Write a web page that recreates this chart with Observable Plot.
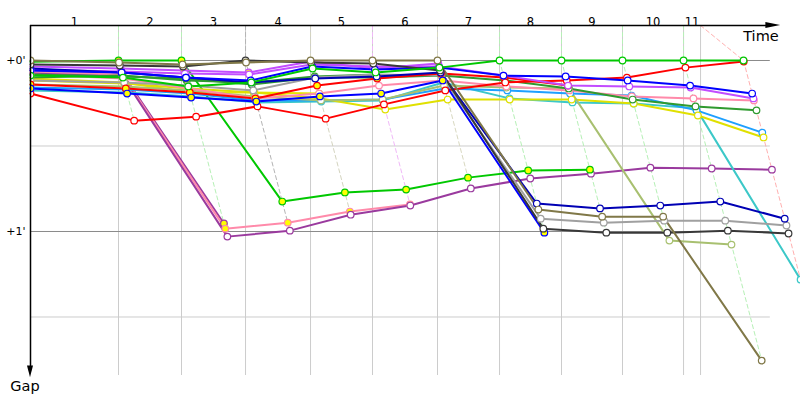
<!DOCTYPE html>
<html><head><meta charset="utf-8">
<script src="https://cdn.jsdelivr.net/npm/d3@7"></script>
<script src="https://cdn.jsdelivr.net/npm/@observablehq/plot@0.6"></script>
<style>body{margin:0;background:#fff}</style>
</head><body><div id="chart"></div>
<script>
// Lap labels and leader crossing times (seconds)
const lapLabels = ["1","2","3","4","5","6","7","8","9","10","11"];
const leaderTimes = [0,118.6,203.5,289.8,377.4,460.9,548.5,632.1,715.6,797.8,880.1,960.9];
const gridTimes = [118.6,203.5,289.8,377.4,460.9,548.5,632.1,715.6,797.8,880.1,903.0];
const gapTicks = [0, 60];
const gapMinorGrid = [30, 90];
const lapLineColors = ["#b6f0b6","#b6f0b6","#b4b4b4","#d4d4bf","#f0b8f8","#d8d8c0","#b6f0b6","#b6f0b6","#b6f0b6","#b6f0b6","#ffb0b0"];

// Gap to leader in seconds at each lap (index 0 = start)
const purpleA   = [3.5,4.2,57.2];
const pinkA     = [4.2,4.9,59.0,56.9,53.0,50.5];
const purpleB   = [4.6,5.6,61.8,59.7,54.1,50.9,44.9,41.4,39.7,37.6,37.9,38.3];
const greenA    = [0.4,0,0,49.5,46.3,45.3,41.1,38.6,38.3];
const yellowA   = [6.3,7.7,11.2,11.2,11.6];
const darkGreenA= [6.0,5.3,7.0,7.7,5.6,4.9];
const violetA   = [2.1,2.8,3.5,4.2,0.35,2.8,1.05];
const cyan      = [10.5,11.2,12.6,14.7,14.4,14.0,7.7,13.3,14.7,15.1,16.8,76.9];
const skyBlue   = [9.5,10.2,11.6,14.0,14.0,13.7,9.8,10.5,11.6,12.3,17.5,25.3];
const yellowB   = [7.0,8.1,9.8,11.2,13.3,17.2,13.7,13.7,13.7,15.1,19.3,27.0];
const lightOlive= [8.4,9.1,10.5,12.6,14.0,13.7,8.8,9.5,9.8,63.2,64.6];
const pinkB     = [4.9,6.3,9.8,13.3,11.6,8.8,7.0,9.1,10.5,12.6,13.3,14.0];
const darkGreenB= [4.9,5.6,6.3,8.4,6.0,6.0,5.3,7.0,9.8,13.7,16.1,17.5];
const gray      = [7.0,7.7,8.8,10.5,6.0,4.9,5.3,55.5,56.9,56.2,56.2,57.9];
const redA      = [8.4,9.8,11.2,13.3,8.8,6.3,4.6,6.0,8.8];
const redB      = [11.6,21.1,19.7,16.1,20.4,15.4,10.5,7.7,7.0,6.0,2.5,0.35];
const violetB   = [3.2,3.9,4.6,4.9,1.4,2.1,2.1,5.3,8.8,9.1,9.5,13.3];
const navy      = [2.8,4.2,6.0,7.7,6.3,5.6,4.2,50.2,51.9,50.9,49.5,55.5];
const blueA     = [9.8,11.6,13.0,14.4,12.6,11.6,7.0,60.4];
const blueB     = [3.5,4.2,6.0,7.0,2.1,3.2,2.5,5.3,5.6,7.0,8.8,11.6];
const black     = [1.4,1.75,2.1,0,0.7,1.05,3.5,59.0,60.4,60.4,59.7,60.7];
const olive     = [0,0.7,1.4,0.7,0,0,0,52.3,54.8,54.8,105.3];
const greenB    = [5.3,6.0,9.1,7.7,2.8,4.2,2.5,0,0,0,0,0];

// series: [values, line colour, marker fill]
const seriesList = [
  [purpleA,"#9a3a9e","#ffff00"],[pinkA,"#ff8aaa","#ffff00"],[purpleB,"#9a3a9e","#ffffff"],
  [greenA,"#00c800","#ffff00"],[yellowA,"#e6e600","#ffff00"],[darkGreenA,"#2f9a2f","#ffff00"],
  [violetA,"#c24cff","#ffff00"],[cyan,"#3cc8c8","#ffffff"],[skyBlue,"#1ea0ff","#ffffff"],
  [yellowB,"#e0e000","#ffffff"],[lightOlive,"#a8c070","#ffffff"],[pinkB,"#ff8aaa","#ffffff"],
  [darkGreenB,"#2f9a2f","#ffffff"],[gray,"#a0a0a0","#ffffff"],[redA,"#ff0000","#ffff00"],
  [redB,"#ff0000","#ffffff"],[violetB,"#c24cff","#ffffff"],[navy,"#0000b4","#ffffff"],
  [blueA,"#0000ff","#ffff00"],[blueB,"#0000ff","#ffffff"],[black,"#383838","#ffffff"],
  [olive,"#807848","#ffffff"],[greenB,"#00c800","#ffffff"]
];

const yDomain = [-12.28, 110.53];
const xDomain = [0, 1004];

const rowsOf = (vals) => vals.map((g, lap) => ({lap, gap: g, t: lap === 0 ? 0 : leaderTimes[lap] + g}));

const marks = [];
// grid
marks.push(Plot.ruleX(gridTimes, {stroke: "#cccccc", strokeWidth: 1}));
marks.push(Plot.ruleY(gapMinorGrid, {x1: 0, x2: 997, stroke: "#cccccc", strokeWidth: 1}));
marks.push(Plot.ruleY(gapTicks, {x1: 0, x2: 997, stroke: "#8a8a8a", strokeWidth: 1}));

// lap lines (dashed)
for (let i = 1; i <= 11; i++) {
  const gaps = seriesList.map(s => s[0][i]).filter(v => v !== undefined);
  const maxGap = d3.max(gaps);
  const pts = [
    {t: gridTimes[i-1], gap: yDomain[0]},
    {t: leaderTimes[i], gap: 0},
    {t: leaderTimes[i] + maxGap, gap: maxGap}
  ];
  marks.push(Plot.line(pts, {x: "t", y: "gap", stroke: lapLineColors[i-1], strokeWidth: 1, strokeDasharray: "4,3"}));
}

// series lines
for (const [vals, color] of seriesList) {
  marks.push(Plot.line(rowsOf(vals), {x: "t", y: "gap", stroke: color, strokeWidth: 2}));
}
// series markers
for (const [vals, color, fill] of seriesList) {
  const rows = rowsOf(vals);
  marks.push(Plot.dot(rows.filter(r => r.lap === 0), {x: "t", y: "gap", r: 3.3, stroke: color, fill, strokeWidth: 1.2, clip: true}));
  marks.push(Plot.dot(rows.filter(r => r.lap > 0), {x: "t", y: "gap", r: 3.3, stroke: color, fill, strokeWidth: 1.2}));
}

// axes lines
marks.push(Plot.ruleY([yDomain[0]], {x1: 0, x2: 995, stroke: "black", strokeWidth: 1.5}));
marks.push(Plot.ruleX([0], {y1: yDomain[0], y2: 108, stroke: "black", strokeWidth: 1.5}));

// tick labels
marks.push(Plot.text(gapTicks, {y: d => d, text: d => "+" + (d/60) + "'", frameAnchor: "left", dx: -5, textAnchor: "end", fontSize: 11, fill: "black"}));
const lapEdges = [0, ...gridTimes];
const lapMid = lapLabels.map((l, i) => ({x: (lapEdges[i] + lapEdges[i+1]) / 2, label: l}));
marks.push(Plot.text(lapMid, {x: "x", text: "label", frameAnchor: "top", dy: -8, fontSize: 11.5, fill: "black"}));

const chart = Plot.plot({
  width: 800, height: 400,
  marginLeft: 30, marginRight: 25, marginTop: 25, marginBottom: 25,
  x: {domain: xDomain, axis: null},
  y: {domain: yDomain, reverse: true, axis: null},
  style: {fontFamily: "DejaVu Sans, Verdana, sans-serif", background: "white"},
  marks
});
document.getElementById("chart").appendChild(chart);

// arrow heads and axis titles, positioned through Plot's scales
const sx = chart.scale("x"), sy = chart.scale("y");
const svg = d3.select(chart);
const x0 = sx.apply(0), yT = sy.apply(yDomain[0]);
const xTip = sx.apply(1011), xBase = sx.apply(991);
svg.append("path").attr("d", `M${xTip},${yT}L${xBase},${yT-3}L${xBase},${yT+3}Z`).attr("fill", "black");
const yTip = sy.apply(111.3), yBase = sy.apply(107.2);
svg.append("path").attr("d", `M${x0},${yTip}L${x0-3},${yBase}L${x0+3},${yBase}Z`).attr("fill", "black");
svg.append("text").attr("x", sx.apply(1009)).attr("y", yT + 16).attr("text-anchor", "end")
  .attr("font-size", 14.5).attr("font-family", "DejaVu Sans, Verdana, sans-serif").text("Time");
svg.append("text").attr("x", x0 - 5).attr("y", yTip + 14).attr("text-anchor", "middle")
  .attr("font-size", 14.5).attr("font-family", "DejaVu Sans, Verdana, sans-serif").text("Gap");
</script>
</body></html>
